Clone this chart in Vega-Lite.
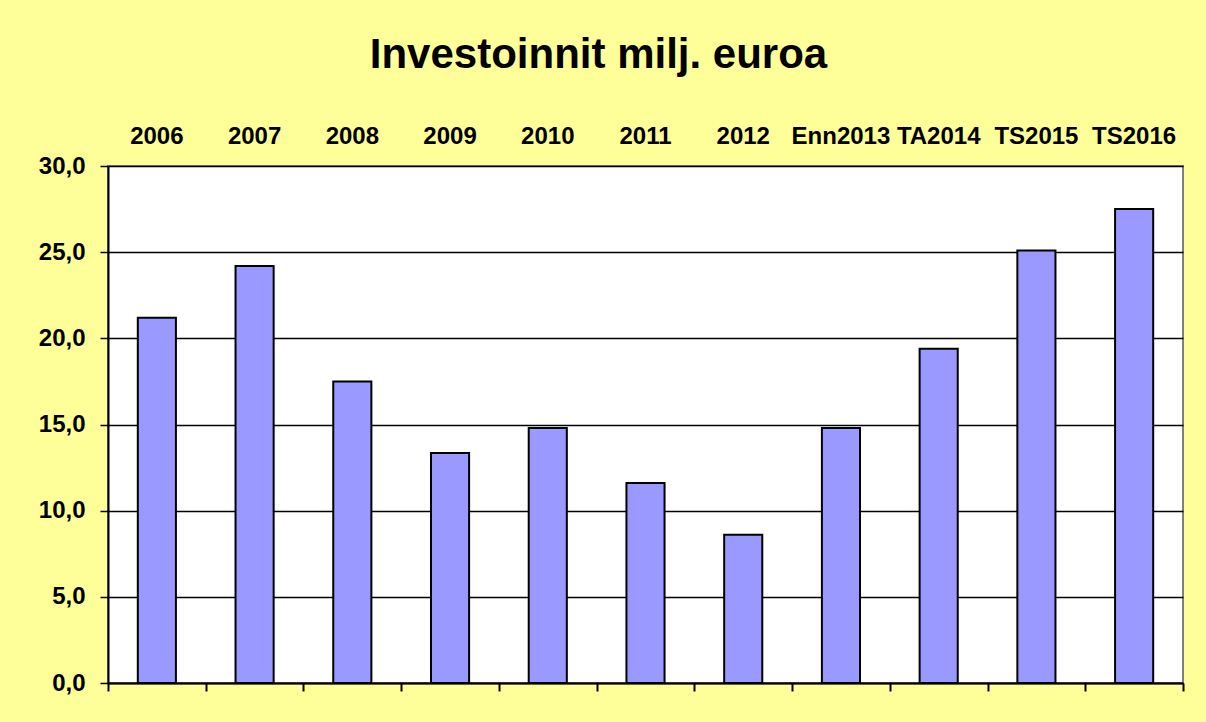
{
  "$schema": "https://vega.github.io/schema/vega-lite/v6.json",
  "autosize": "none",
  "width": 1075,
  "height": 517,
  "padding": {"left": 108, "top": 166, "right": 23, "bottom": 39},
  "background": "#FFFF99",
  "title": {
    "text": "Investoinnit milj. euroa",
    "font": "Liberation Sans",
    "fontSize": 42,
    "fontWeight": "bold",
    "color": "black",
    "anchor": "middle",
    "frame": "group",
    "dx": -47,
    "offset": 47
  },
  "config": {
    "view": {"fill": "white", "stroke": "#808080", "strokeWidth": 2}
  },
  "data": {
    "values": [
      {"year": "2006", "value": 21.2},
      {"year": "2007", "value": 24.2},
      {"year": "2008", "value": 17.5},
      {"year": "2009", "value": 13.35},
      {"year": "2010", "value": 14.8},
      {"year": "2011", "value": 11.6},
      {"year": "2012", "value": 8.6},
      {"year": "Enn2013", "value": 14.8},
      {"year": "TA2014", "value": 19.4},
      {"year": "TS2015", "value": 25.1},
      {"year": "TS2016", "value": 27.5}
    ]
  },
  "layer": [
    {
      "mark": {"type": "bar", "opacity": 0},
      "encoding": {
        "x": {
          "field": "year",
          "type": "nominal",
          "sort": null,
          "scale": {"paddingInner": 0, "paddingOuter": 0},
          "axis": {
            "orient": "bottom",
            "title": null,
            "labels": false,
            "ticks": true,
            "tickBand": "extent",
            "tickSize": 8,
            "tickWidth": 2,
            "tickColor": "black",
            "domainColor": "black",
            "domainWidth": 2
          }
        }
      }
    },
    {
      "mark": {"type": "bar", "fill": "#9999FF", "stroke": "black", "strokeWidth": 2},
      "encoding": {
        "x": {
          "field": "year",
          "type": "nominal",
          "sort": null,
          "scale": {"paddingInner": 0.61, "paddingOuter": 0.305},
          "axis": {
            "orient": "top",
            "title": null,
            "labelAngle": 0,
            "ticks": false,
            "domain": false,
            "labelOverlap": false,
            "labelFont": "Liberation Sans",
            "labelFontSize": 24,
            "labelFontWeight": "bold",
            "labelColor": "black",
            "labelPadding": 18
          }
        },
        "y": {
          "field": "value",
          "type": "quantitative",
          "scale": {"domain": [0, 30], "nice": false},
          "axis": {
            "title": null,
            "values": [0, 5, 10, 15, 20, 25, 30],
            "labelExpr": "replace(format(datum.value, '.1f'), '.', ',')",
            "labelFont": "Liberation Sans",
            "labelFontSize": 24,
            "labelFontWeight": "bold",
            "labelColor": "black",
            "labelPadding": 15,
            "tickColor": "black",
            "tickSize": 8,
            "tickWidth": 1.5,
            "domainColor": "black",
            "domainWidth": 2,
            "gridColor": "black",
            "gridWidth": 1.5,
            "gridOpacity": 1
          }
        }
      }
    }
  ],
  "resolve": {"scale": {"x": "independent"}, "axis": {"x": "independent"}}
}
